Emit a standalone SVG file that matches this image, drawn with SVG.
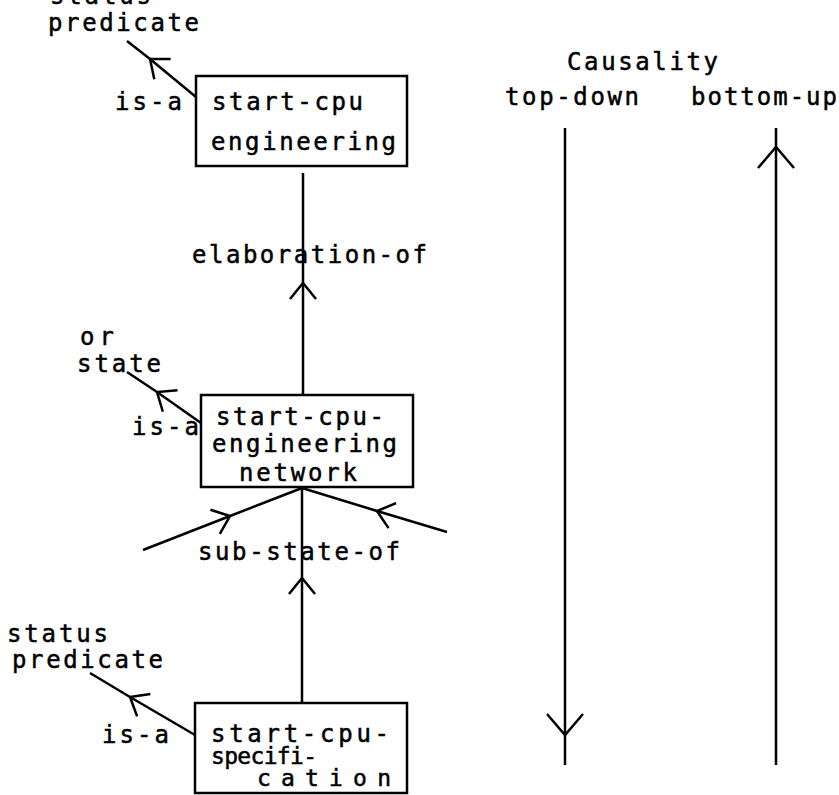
<svg xmlns="http://www.w3.org/2000/svg" width="839" height="795" viewBox="0 0 839 795">
<style>
text{font-family:"DejaVu Sans Mono","Liberation Mono",monospace;font-size:24px;fill:#000;stroke:#000;stroke-width:0.5}
.sm{font-size:23px}
.box{fill:none;stroke:#000;stroke-width:2.5}
.ln{fill:none;stroke:#000;stroke-width:2.5}
.a{marker-mid:url(#v)}
.b{marker-mid:url(#vb)}
</style>
<defs>
<marker id="v" markerUnits="userSpaceOnUse" orient="auto" markerWidth="40" markerHeight="40" viewBox="-20 -20 40 40" refX="0" refY="0" overflow="visible">
<path d="M-16,-13 L0,0 L-16,13" fill="none" stroke="#000" stroke-width="2.5"/>
</marker>
<marker id="vb" markerUnits="userSpaceOnUse" orient="auto" markerWidth="50" markerHeight="50" viewBox="-25 -25 50 50" refX="0" refY="0" overflow="visible">
<path d="M-21,-18 L0,0 L-21,18" fill="none" stroke="#000" stroke-width="2.5"/>
</marker>
</defs>
<g id="connectors">
<polyline class="ln a" points="196,97 150,59 127,41"/>
<polyline class="ln a" points="303,395 303,283 303,173"/>
<polyline class="ln a" points="201,423 157,392 127,372"/>
<polyline class="ln a" points="143,550 230,516 302,488"/>
<polyline class="ln a" points="447,532 377,511 302,488"/>
<polyline class="ln a" points="302,703 302,578 302,487"/>
<polyline class="ln a" points="195,735 130,697 90,673"/>
<polyline class="ln b" points="565,128 565,735 565,765"/>
<polyline class="ln b" points="776,765 776,147 776,128"/>
</g>
<g id="label-status-predicate-top">
<text x="50" y="4" textLength="101" lengthAdjust="spacing">status</text>
<text x="48" y="31" textLength="151" lengthAdjust="spacing">predicate</text>
</g>
<g id="node-start-cpu-engineering">
<rect class="box" x="196" y="76" width="211" height="90"/>
<text x="212" y="110" textLength="151" lengthAdjust="spacing">start-cpu</text>
<text x="211" y="150" textLength="185" lengthAdjust="spacing">engineering</text>
</g>
<g id="label-isa-1"><text x="115" y="110" textLength="67" lengthAdjust="spacing">is-a</text></g>
<g id="label-elaboration"><text x="192" y="263" textLength="235" lengthAdjust="spacing">elaboration-of</text></g>
<g id="label-or-state">
<text x="80" y="345" textLength="34" lengthAdjust="spacing">or</text>
<text x="77" y="372" textLength="84" lengthAdjust="spacing">state</text>
</g>
<g id="label-isa-2"><text x="132" y="435" textLength="67" lengthAdjust="spacing">is-a</text></g>
<g id="node-start-cpu-engineering-network">
<rect class="box" x="201" y="395" width="212" height="92"/>
<text x="216" y="425" textLength="168" lengthAdjust="spacing">start-cpu-</text>
<text x="212" y="452" textLength="185" lengthAdjust="spacing">engineering</text>
<text x="239" y="481" textLength="118" lengthAdjust="spacing">network</text>
</g>
<g id="label-sub-state"><text x="198" y="560" textLength="202" lengthAdjust="spacing">sub-state-of</text></g>
<g id="label-status-predicate-bottom">
<text x="7" y="642" textLength="101" lengthAdjust="spacing">status</text>
<text x="12" y="668" textLength="151" lengthAdjust="spacing">predicate</text>
</g>
<g id="label-isa-3"><text x="102" y="743" textLength="67" lengthAdjust="spacing">is-a</text></g>
<g id="node-start-cpu-specification">
<rect class="box" x="195" y="703" width="212" height="90"/>
<text x="211" y="742" textLength="178" lengthAdjust="spacing">start-cpu-</text>
<text class="sm" x="211" y="764" textLength="106" lengthAdjust="spacing">specifi-</text>
<text class="sm" x="257" y="786" textLength="134" lengthAdjust="spacing">cation</text>
</g>
<g id="causality">
<text x="567" y="70" textLength="151" lengthAdjust="spacing">Causality</text>
<text x="505" y="105" textLength="134" lengthAdjust="spacing">top-down</text>
<text x="691" y="105" textLength="146" lengthAdjust="spacing">bottom-up</text>
</g>
</svg>
